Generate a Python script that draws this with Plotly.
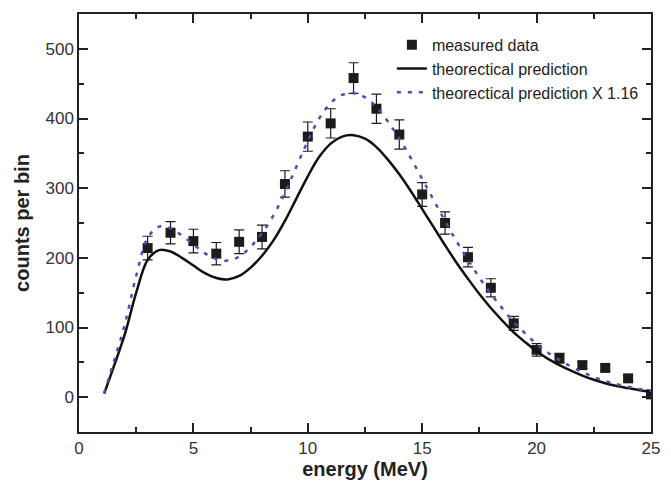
import plotly.graph_objects as go

# measured data
energy = [3, 4, 5, 6, 7, 8, 9, 10, 11, 12, 13, 14, 15, 16, 17, 18, 19, 20, 21, 22, 23, 24, 25]
counts = [214, 236, 224, 206, 223, 230, 306, 374, 393, 458, 414, 377, 291, 250, 201, 157, 106, 68, 56, 46, 42, 27, 4]
errors = [17, 16, 17, 16, 17, 17, 19, 21, 21, 22, 21, 21, 17, 16, 14, 13, 10, 9, 7, 5, 4, 4, 4]

# theoretical prediction
theory_e = [1.1, 1.5, 2, 2.5, 3, 3.5, 4, 4.5, 5, 5.5, 6, 6.5, 7, 7.5, 8, 8.5, 9, 9.5, 10,
            10.5, 11, 11.5, 12, 12.5, 13, 13.5, 14, 14.5, 15, 15.5, 16, 16.5, 17, 17.5,
            18, 18.5, 19, 19.5, 20, 20.5, 21, 21.5, 22, 22.5, 23, 23.5, 24, 24.5, 25]
theory_v = [5, 42, 90, 150, 197, 211, 209, 200, 189, 178, 171, 169, 174, 186, 203, 225,
            253, 285, 317, 345, 364, 374, 376, 371, 359, 341, 320, 296, 270, 244, 218,
            193, 170, 148, 128, 110, 93, 79, 66, 55, 46, 38, 31, 25, 20, 16, 13, 10, 8]
scale = 1.16
theory_scaled = [v * scale for v in theory_v]

font_family = "Liberation Sans, Arial, Helvetica, sans-serif"

fig = go.Figure()
fig.add_trace(go.Scatter(
    x=energy, y=counts, mode="markers", name="measured data",
    marker=dict(symbol="square", size=10, color="#1c1c1c"),
    error_y=dict(type="data", array=errors, visible=True, color="#1c1c1c",
                 thickness=1.2, width=5),
))
fig.add_trace(go.Scatter(
    x=theory_e, y=theory_v, mode="lines", name="theorectical prediction",
    line=dict(color="#111111", width=2.5, shape="spline"),
))
fig.add_trace(go.Scatter(
    x=theory_e, y=theory_scaled, mode="lines", name="theorectical prediction X 1.16",
    line=dict(color="#5a48a8", width=2.5, dash="4px,7px", shape="spline"),
))

axis_common = dict(
    showline=True, linecolor="#222222", linewidth=1.5, mirror="ticks",
    ticks="inside", ticklen=9, tickwidth=1.5, tickcolor="#222222",
    showgrid=False, zeroline=False,
    tickfont=dict(family=font_family, size=17, color="#333333"),
    title_font=dict(family=font_family, size=20, color="#222222"),
)

# page body adds an 8px margin, so the figure is made 8px smaller and shifted
fig.update_layout(
    width=663, height=479,
    margin=dict(l=71, r=20, t=4, b=55),
    paper_bgcolor="white", plot_bgcolor="white",
    font=dict(family=font_family, color="#222222"),
    xaxis=dict(range=[0, 25], tick0=0, dtick=5,
               minor=dict(ticks="inside", ticklen=5, tickwidth=1.5, tickcolor="#222222", dtick=2.5),
               title=dict(text="<b>energy (MeV)</b>", standoff=4), **axis_common),
    yaxis=dict(range=[-50, 550], tick0=0, dtick=100,
               minor=dict(ticks="inside", ticklen=5, tickwidth=1.5, tickcolor="#222222", dtick=50),
               title=dict(text="<b>counts per bin</b>", standoff=10), **axis_common),
    legend=dict(x=0.547, y=0.967, xanchor="left", yanchor="top",
                bgcolor="rgba(0,0,0,0)", borderwidth=0,
                font=dict(family=font_family, size=16, color="#222222"),
                tracegroupgap=0, itemwidth=30),
    showlegend=True,
)

fig.write_html("out.html")
